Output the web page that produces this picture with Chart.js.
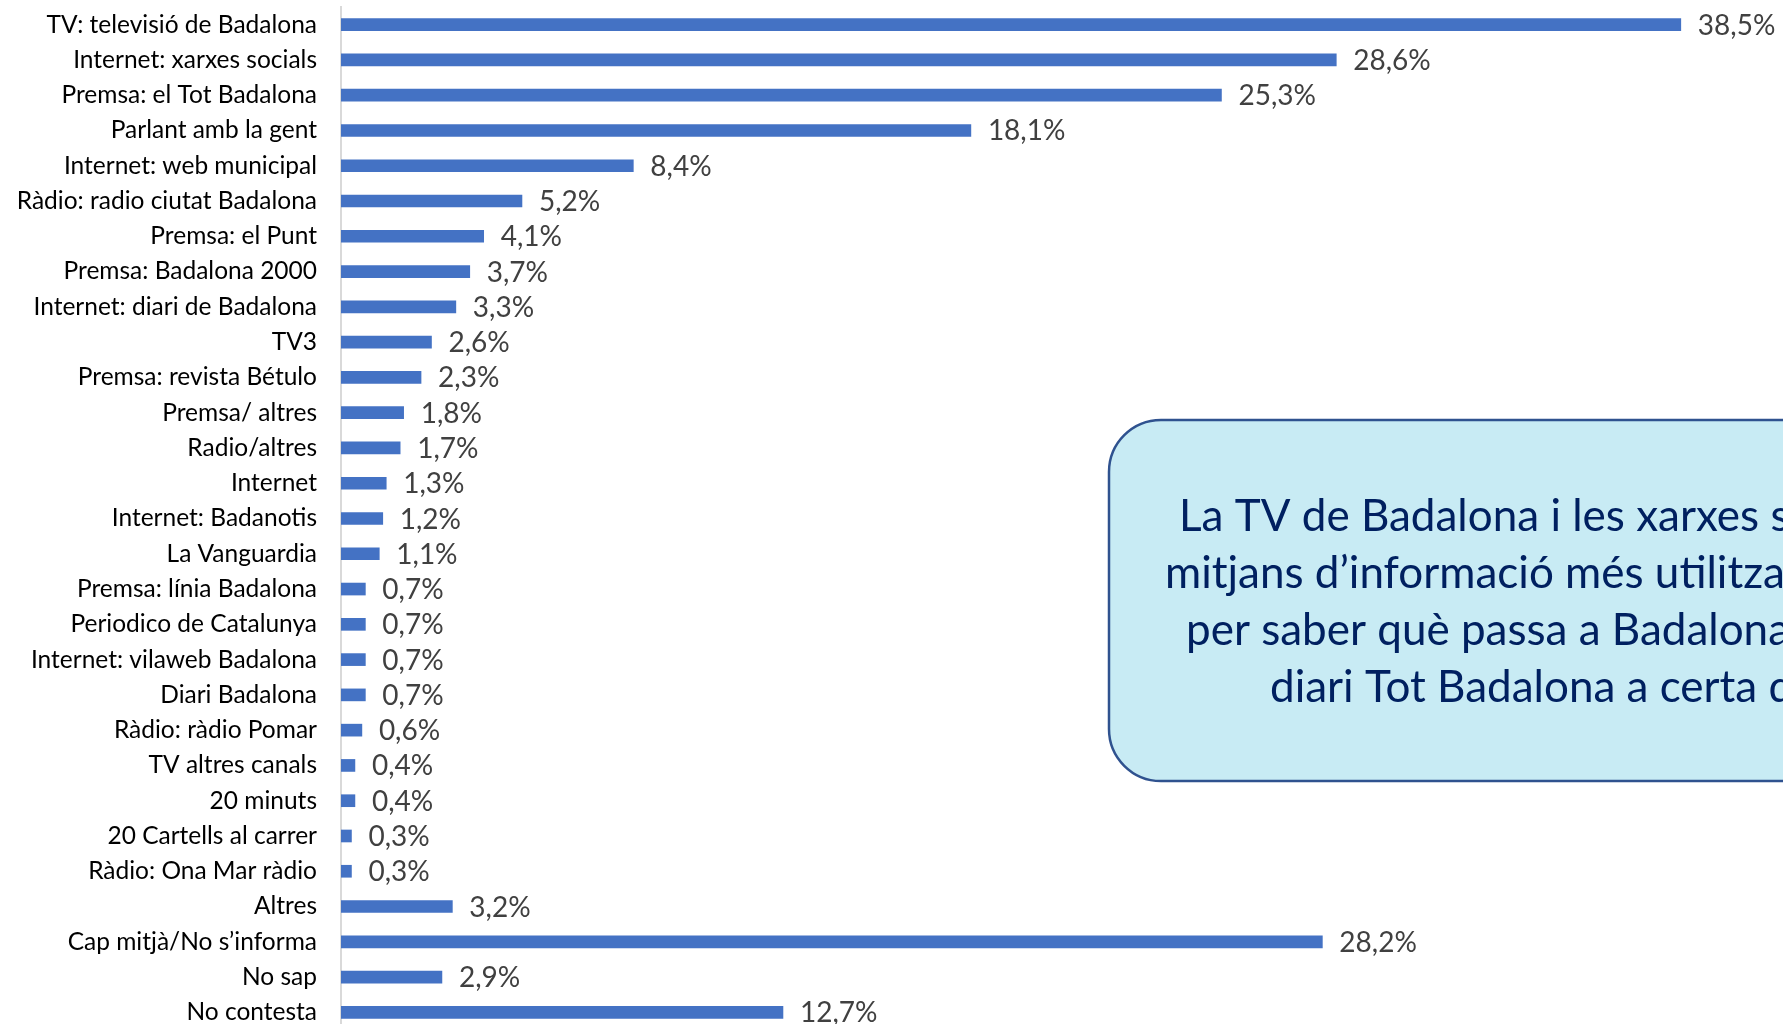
<!DOCTYPE html>
<html>
<head>
<meta charset="utf-8">
<script src="https://cdn.jsdelivr.net/npm/chart.js@4.4.0/dist/chart.umd.min.js"></script>
<style>
  html, body { margin: 0; padding: 0; background: #fff; overflow: hidden; }
  canvas { display: block; }
</style>
</head>
<body>
<canvas id="bar-chart" width="1783" height="1036"></canvas>
<script>
const labels = [
  "TV: televisió de Badalona",
  "Internet: xarxes socials",
  "Premsa: el Tot Badalona",
  "Parlant amb la gent",
  "Internet: web municipal",
  "Ràdio: radio ciutat Badalona",
  "Premsa: el Punt",
  "Premsa: Badalona 2000",
  "Internet: diari de Badalona",
  "TV3",
  "Premsa: revista Bétulo",
  "Premsa/ altres",
  "Radio/altres",
  "Internet",
  "Internet: Badanotis",
  "La Vanguardia",
  "Premsa: línia Badalona",
  "Periodico de Catalunya",
  "Internet: vilaweb Badalona",
  "Diari Badalona",
  "Ràdio: ràdio Pomar",
  "TV altres canals",
  "20 minuts",
  "20 Cartells al carrer",
  "Ràdio: Ona Mar ràdio",
  "Altres",
  "Cap mitjà/No s’informa",
  "No sap",
  "No contesta",
];

const percent_values = [
  38.5, 28.6, 25.3, 18.1, 8.4, 5.2, 4.1, 3.7, 3.3, 2.6,
  2.3, 1.8, 1.7, 1.3, 1.2, 1.1, 0.7, 0.7, 0.7, 0.7,
  0.6, 0.4, 0.4, 0.3, 0.3, 3.2, 28.2, 2.9, 12.7,
];

const note_lines = [
  "La TV de Badalona i les xarxes socials són els",
  "mitjans d’informació més utilitzats",
  "per saber què passa a Badalona, i el",
  "diari Tot Badalona a certa distància",
];

const fmt = (v) => v.toFixed(1).replace(".", ",") + "%";

// value labels at the end of every bar
const valueLabels = {
  id: "valueLabels",
  afterDatasetsDraw(chart) {
    const ctx = chart.ctx;
    const meta = chart.getDatasetMeta(0);
    ctx.save();
    ctx.font = "28px Lato";
    ctx.fillStyle = "#404040";
    ctx.textAlign = "left";
    ctx.textBaseline = "middle";
    meta.data.forEach((bar, i) => {
      ctx.fillText(fmt(percent_values[i]), bar.x + 17, bar.y + 1);
    });
    ctx.restore();
  },
};

// the rounded note box on the right (runs off the page edge)
const noteBox = {
  id: "noteBox",
  afterDraw(chart) {
    const ctx = chart.ctx;
    ctx.save();
    ctx.beginPath();
    ctx.roundRect(1109, 420, 900, 361, 52);
    ctx.fillStyle = "#c8ebf4";
    ctx.fill();
    ctx.lineWidth = 2.5;
    ctx.strokeStyle = "#2f528f";
    ctx.stroke();

    ctx.font = "44px Lato";
    ctx.fillStyle = "#002060";
    ctx.textAlign = "left";
    ctx.textBaseline = "middle";
    const xs = [1179, 1165, 1186, 1270];
    const ys = [517, 574, 631, 688];
    note_lines.forEach((line, i) => ctx.fillText(line, xs[i], ys[i]));
    ctx.restore();
  },
};

const bar_data = {
  labels: labels,
  datasets: [
    {
      label: "Mitjans",
      backgroundColor: "#4472c4",
      borderWidth: 0,
      barThickness: 12,
      data: percent_values,
    },
  ],
};

const bar_config = {
  type: "bar",
  data: bar_data,
  plugins: [valueLabels, noteBox],
  options: {
    indexAxis: "y",
    responsive: false,
    animation: false,
    layout: {
      padding: { top: 7, bottom: 6, left: 0, right: 50 },
    },
    plugins: {
      legend: { display: false },
      tooltip: { enabled: false },
    },
    scales: {
      x: {
        display: false,
        min: 0,
        max: 40,
      },
      y: {
        afterFit(scale) {
          scale.width = 341;
          scale.paddingTop = 0;
          scale.paddingBottom = 0;
        },
        grid: { display: false, drawTicks: false },
        border: { display: true, color: "#d9d9d9", width: 2 },
        ticks: {
          color: "#000000",
          padding: 24,
          autoSkip: false,
          font: { family: "Lato", size: 24.5 },
        },
      },
    },
  },
};

function initializeBarChart(canvasID) {
  const ctx = document.getElementById(canvasID).getContext("2d");
  return new Chart(ctx, bar_config);
}

initializeBarChart("bar-chart");
</script>
</body>
</html>
